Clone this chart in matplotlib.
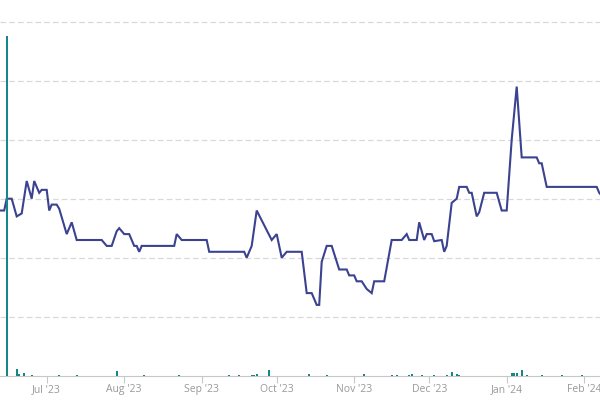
import numpy as np
import pandas as pd
import matplotlib
matplotlib.use("Agg")
import matplotlib.pyplot as plt
import matplotlib.dates as mdates

# price line
price_dates = ["2023-06-12", "2023-06-14", "2023-06-15", "2023-06-17", "2023-06-19",
               "2023-06-21", "2023-06-23", "2023-06-25", "2023-06-26", "2023-06-28",
               "2023-06-29", "2023-07-01", "2023-07-02", "2023-07-03", "2023-07-05",
               "2023-07-06", "2023-07-09", "2023-07-11", "2023-07-13", "2023-07-23",
               "2023-07-25", "2023-07-27", "2023-07-29", "2023-07-30", "2023-08-01",
               "2023-08-03", "2023-08-05", "2023-08-06", "2023-08-07", "2023-08-08",
               "2023-08-21", "2023-08-22", "2023-08-24", "2023-09-03", "2023-09-04",
               "2023-09-18", "2023-09-19", "2023-09-21", "2023-09-23", "2023-09-29",
               "2023-10-01", "2023-10-03", "2023-10-05", "2023-10-11", "2023-10-13",
               "2023-10-15", "2023-10-17", "2023-10-18", "2023-10-19", "2023-10-21",
               "2023-10-23", "2023-10-26", "2023-10-29", "2023-10-30", "2023-11-01",
               "2023-11-02", "2023-11-04", "2023-11-06", "2023-11-08", "2023-11-09",
               "2023-11-13", "2023-11-16", "2023-11-20", "2023-11-22", "2023-11-23",
               "2023-11-26", "2023-11-27", "2023-11-29", "2023-11-30", "2023-12-02",
               "2023-12-03", "2023-12-06", "2023-12-07", "2023-12-08", "2023-12-10",
               "2023-12-12", "2023-12-13", "2023-12-16", "2023-12-17", "2023-12-18",
               "2023-12-20", "2023-12-21", "2023-12-23", "2023-12-28", "2023-12-30",
               "2024-01-01", "2024-01-03", "2024-01-05", "2024-01-07", "2024-01-13",
               "2024-01-14", "2024-01-15", "2024-01-17", "2024-02-06", "2024-02-07",
               "2024-02-08"]
price = [2.8, 2.8, 3.0, 3.0, 2.7,
         2.75, 3.3, 3.0, 3.3, 3.1,
         3.15, 3.15, 2.8, 2.9, 2.9,
         2.83, 2.4, 2.6, 2.3, 2.3,
         2.2, 2.2, 2.45, 2.5, 2.4,
         2.4, 2.2, 2.2, 2.1, 2.2,
         2.2, 2.4, 2.3, 2.3, 2.1,
         2.1, 2.0, 2.2, 2.8, 2.3,
         2.4, 2.0, 2.1, 2.1, 1.4,
         1.4, 1.2, 1.2, 1.93, 2.2,
         2.2, 1.8, 1.8, 1.7, 1.7,
         1.6, 1.6, 1.47, 1.4, 1.6,
         1.6, 2.3, 2.3, 2.4, 2.3,
         2.3, 2.6, 2.3, 2.4, 2.4,
         2.28, 2.3, 2.1, 2.2, 2.93,
         3.0, 3.2, 3.2, 3.1, 3.1,
         2.7, 2.77, 3.1, 3.1, 2.8,
         2.8, 4.0, 4.9, 3.7, 3.7,
         3.6, 3.6, 3.2, 3.2, 3.1,
         3.05]

# traded volume
vol_dates = ["2023-06-15", "2023-06-19", "2023-06-20", "2023-06-22", "2023-06-25",
             "2023-07-06", "2023-07-13", "2023-07-29", "2023-08-09", "2023-08-23",
             "2023-09-12", "2023-09-16", "2023-09-21", "2023-09-22", "2023-09-23",
             "2023-09-28", "2023-10-14", "2023-10-21", "2023-11-05", "2023-11-16",
             "2023-11-18", "2023-11-23", "2023-11-24", "2023-11-28", "2023-12-03",
             "2023-12-08", "2023-12-10", "2023-12-12", "2023-12-13", "2024-01-03",
             "2024-01-04", "2024-01-05", "2024-01-07", "2024-01-09", "2024-01-15",
             "2024-01-23", "2024-01-31"]
volume = [340, 6.7, 2, 2.3, 1,
          0.5, 0.5, 5, 1, 0.5,
          0.4, 0.4, 1, 1, 2,
          6, 2, 1, 1.5, 1,
          1, 1, 2, 1, 1,
          1, 4, 1.5, 1, 3,
          3, 3, 5.3, 1, 0.4,
          0.4, 0.4]

W, H = 600, 403
fig = plt.figure(figsize=(W / 100, H / 100), dpi=100)
base = 375.7
ax = fig.add_axes([0, (H - base) / H, 1, base / H])

x0 = mdates.date2num(pd.Timestamp("2023-07-01"))
px_per_day = 2.5
ax.set_xlim(x0 - 46.7 / px_per_day, x0 + (W - 46.7) / px_per_day)
ax.set_ylim(0, base / 59)

grid_col = "#d9d9d9"
for g in range(1, 7):
    ax.axhline(g, color=grid_col, lw=0.9, linestyle=(0, (4.5, 2.5)), zorder=0)

ax.plot(pd.to_datetime(price_dates), price, color="#3b4290", lw=1.5,
        solid_joinstyle="miter", zorder=3)

for s in ["top", "left", "right"]:
    ax.spines[s].set_visible(False)
ax.spines["bottom"].set_color("#c8c8c8")
ax.spines["bottom"].set_linewidth(0.8)
ax.set_yticks([])

ax.xaxis.set_major_locator(mdates.MonthLocator())
ax.xaxis.set_major_formatter(mdates.DateFormatter("%b '%y"))
ax.tick_params(axis="x", length=5, width=0.8, color="#c8c8c8", pad=1,
               labelsize=7.5, labelcolor="#999999")
for lab in ax.get_xticklabels():
    lab.set_fontfamily("Open Sans")

ax2 = ax.twinx()
ax2.set_ylim(0, 340 * base / 339.7)
ax2.bar(pd.to_datetime(vol_dates), volume, width=0.85, color="#15878b", zorder=4)
for s in ax2.spines.values():
    s.set_visible(False)
ax2.set_yticks([])

fig.savefig("out.png", dpi=100)
